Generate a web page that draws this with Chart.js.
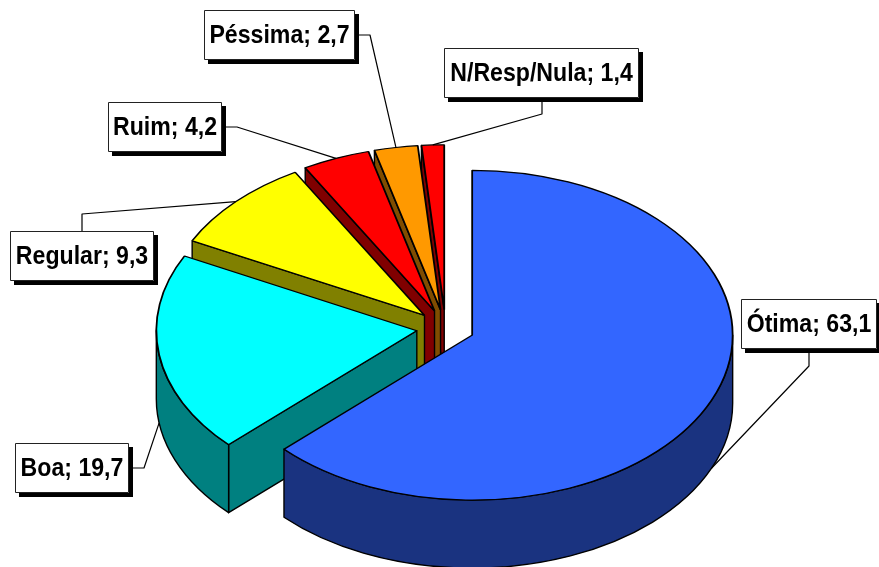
<!DOCTYPE html>
<html>
<head>
<meta charset="utf-8">
<script src="https://cdn.jsdelivr.net/npm/chart.js@4"></script>
<style>
  html, body { margin: 0; background: #fff; }
  canvas { display: block; }
</style>
</head>
<body>
<canvas id="pie" width="879" height="567"></canvas>
<script>
const categories = ["Ótima", "Boa", "Regular", "Ruim", "Péssima", "N/Resp/Nula"];
const values = [63.1, 19.7, 9.3, 4.2, 2.7, 1.4];
const topColors = ["#3366ff", "#00ffff", "#ffff00", "#ff0000", "#ff9900", "#ff0000"];
const wallColors = ["#1a3380", "#008080", "#808000", "#800000", "#804d00", "#800000"];

// 3D look: the flat pie gets squashed and pushed around by hand
const squash = 0.633;
const depth = 68;
const explode = 29;
const pieRadius = 260.5;
const pieCenterY = 328;

// box: x, y, w, h / from: where the leader leaves the box / elbow: its bend
const callouts = [
  { box: [741, 299, 136, 50], from: [809, 353], elbow: [809, 366] },
  { box: [15, 443, 114, 50], from: [133, 468], elbow: [144, 468] },
  { box: [10, 231, 144, 50], from: [82, 231], elbow: [82, 214] },
  { box: [108, 102, 114, 50], from: [226, 127], elbow: [237, 127] },
  { box: [204, 10, 151, 50], from: [359, 35], elbow: [370, 35] },
  { box: [444, 48, 195, 50], from: [542, 102], elbow: [542, 114] }
];

const fmt = v => v.toFixed(1).replace(".", ",");

function sliceCenter(arc) {
  const mid = (arc.startAngle + arc.endAngle) / 2;
  return {
    mid,
    x: arc.x + Math.cos(mid) * explode,
    y: pieCenterY + Math.sin(mid) * explode * squash
  };
}

function drawWalls(ctx, arc, color) {
  const c = sliceCenter(arc);
  const ry = arc.outerRadius * squash;
  ctx.fillStyle = color;
  ctx.strokeStyle = "#000";
  ctx.lineWidth = 1.4;
  ctx.lineJoin = "round";

  // flat cut faces
  [arc.startAngle, arc.endAngle].forEach((a, i) => {
    const cos = Math.cos(a);
    const visible = i === 0 ? cos < -0.001 : cos > 0.001;
    if (!visible) return;
    const rx = c.x + cos * arc.outerRadius;
    const rimY = c.y + Math.sin(a) * ry;
    ctx.beginPath();
    ctx.moveTo(c.x, c.y);
    ctx.lineTo(rx, rimY);
    ctx.lineTo(rx, rimY + depth);
    ctx.lineTo(c.x, c.y + depth);
    ctx.closePath();
    ctx.fill();
    ctx.stroke();
  });

  // rim, only the front half shows
  const lo = Math.max(arc.startAngle, 0);
  const hi = Math.min(arc.endAngle, Math.PI);
  if (hi > lo) {
    ctx.beginPath();
    ctx.ellipse(c.x, c.y, arc.outerRadius, ry, 0, lo, hi);
    ctx.ellipse(c.x, c.y + depth, arc.outerRadius, ry, 0, hi, lo, true);
    ctx.closePath();
    ctx.fill();
    ctx.stroke();
  }
}

function drawCallout(ctx, arc, i) {
  const c = sliceCenter(arc);
  const { box, from, elbow } = callouts[i];
  const [x, y, w, h] = box;
  const sin = Math.sin(c.mid);
  const endX = c.x + Math.cos(c.mid) * arc.outerRadius;
  const endY = c.y + sin * arc.outerRadius * squash + (sin > 0 ? depth : 0);

  ctx.strokeStyle = "#000";
  ctx.lineWidth = 1.2;
  ctx.beginPath();
  ctx.moveTo(from[0], from[1]);
  ctx.lineTo(elbow[0], elbow[1]);
  ctx.lineTo(endX, endY);
  ctx.stroke();

  ctx.fillStyle = "#000";
  ctx.fillRect(x + 4, y + 4, w, h);
  ctx.fillStyle = "#fff";
  ctx.fillRect(x, y, w, h);
  ctx.strokeStyle = "#222";
  ctx.lineWidth = 1;
  ctx.strokeRect(x + 0.5, y + 0.5, w - 1, h - 1);

  // reference text is narrower and taller than plain bold
  ctx.save();
  ctx.translate(x + w / 2, y + h / 2);
  ctx.scale(0.925, 1);
  ctx.fillStyle = "#000";
  ctx.font = 'bold 25px "Liberation Sans", Arial, sans-serif';
  ctx.textAlign = "center";
  ctx.textBaseline = "middle";
  ctx.fillText(categories[i] + "; " + fmt(values[i]), 0, 1);
  ctx.restore();
}

const pie3d = {
  id: "pie3d",
  beforeDatasetsDraw(chart) {
    const ctx = chart.ctx;
    const arcs = chart.getDatasetMeta(0).data;
    // back slices first, Ótima last
    const order = arcs.map((_, i) => i).reverse();

    order.forEach(i => drawWalls(ctx, arcs[i], wallColors[i]));
    order.forEach(i => {
      const c = sliceCenter(arcs[i]);
      ctx.save();
      ctx.translate(c.x, c.y);
      ctx.scale(1, squash);
      ctx.translate(-arcs[i].x, -arcs[i].y);
      arcs[i].draw(ctx);
      ctx.restore();
    });
    arcs.forEach((arc, i) => drawCallout(ctx, arc, i));
    return false; // everything is drawn already
  }
};

new Chart(document.getElementById("pie"), {
  type: "pie",
  data: {
    labels: categories,
    datasets: [{
      data: values,
      backgroundColor: topColors,
      borderColor: "#000",
      borderWidth: 1.8,
      radius: pieRadius
    }]
  },
  options: {
    responsive: false,
    animation: false,
    layout: { padding: { left: 12 } },
    plugins: {
      legend: { display: false },
      tooltip: { enabled: false }
    }
  },
  plugins: [pie3d]
});
</script>
</body>
</html>
